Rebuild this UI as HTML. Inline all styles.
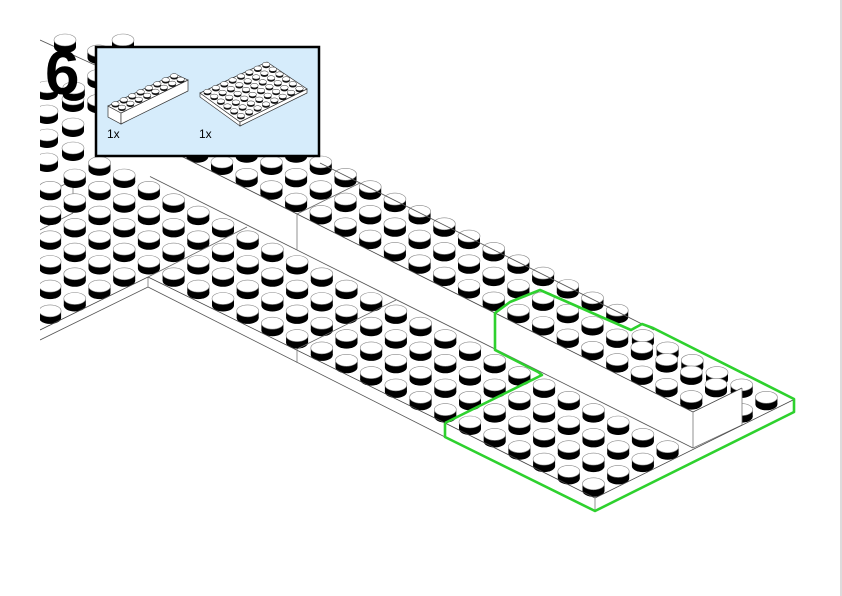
<!DOCTYPE html>
<html><head><meta charset="utf-8"><style>
html,body{margin:0;padding:0;background:#fff;}
#wrap{position:relative;width:842px;height:596px;overflow:hidden;background:#fff;}
svg{position:absolute;left:0;top:0;}
</style></head><body><div id="wrap">
<svg id="s" width="842" height="596" viewBox="0 0 842 596" xmlns="http://www.w3.org/2000/svg">
<defs><clipPath id="cp"><rect x="40" y="0" width="800" height="596"/></clipPath></defs>
<line x1="841" y1="0" x2="841" y2="596" stroke="#dcdcdc" stroke-width="2"/>
<g id="scene" clip-path="url(#cp)"></g>
<g id="top"></g>
</svg>
<script>
(function(){
var ax=24.7, ay=12.35;
function L0(i,j){return {x:470+ax*(i+j), y:422+ay*(i-j)};}
function L1(i,j){return {x:222+ax*(i+j), y:162+ay*(i-j)};}
function stud(p,fill){
  var x=p.x.toFixed(1), y=p.y.toFixed(1), yb=(p.y+7).toFixed(1);
  var f=fill||'#000';
  return '<ellipse cx="'+x+'" cy="'+yb+'" rx="11" ry="6" fill="'+f+'"/>'+
   '<rect x="'+(p.x-11).toFixed(1)+'" y="'+y+'" width="22" height="7" fill="'+f+'"/>'+
   '<ellipse cx="'+x+'" cy="'+y+'" rx="11" ry="6" fill="#fff" stroke="#888" stroke-width="0.6"/>';
}
function line(a,b,c,d,col,w){return '<line x1="'+a+'" y1="'+b+'" x2="'+c+'" y2="'+d+'" stroke="'+(col||'#444')+'" stroke-width="'+(w||0.8)+'"/>';}
function sortDraw(arr){arr.sort(function(a,b){return a.y-b.y;});var s='';arr.forEach(function(p){s+=stud(p);});return s;}
var out='';
var man=[{x:65,y:40},{x:123,y:40},{x:47,y:87},{x:47,y:111},{x:47,y:135},{x:47,y:159},{x:73,y:99},{x:73,y:124},{x:73,y:148}];
var ex=[];for(var i=0;i<=5;i++)ex.push(L0(i,7));ex.push(L0(5,6));
out+=line(40,40,95,65,'#555');
out+=sortDraw(man);
out+=sortDraw(ex);
var l1=[];
for(var i=-6;i<=19;i++){l1.push(L1(i,0));l1.push(L1(i,1));}
for(var i=-7;i<=14;i++){l1.push(L1(i,2));}
out+=sortDraw(l1);
function yt(x){return 412-(693-x)*0.5;}
function ybt(x){return 448-(693-x)*0.5;}
out+='<polygon points="150,'+yt(150)+' 693,412 693,448 150,'+ybt(150)+'" fill="#fff"/>';
out+='<polygon points="693,412 742,388 742,425 693,448" fill="#fff"/>';
out+=line(150,yt(150),693,412);
out+=line(150,ybt(150),693,448,'#555');
out+=line(693,412,693,448,'#777');
out+=line(297,yt(297),297,ybt(297),'#777');
out+=line(297,yt(297),360,183,'#666');
out+=line(693,412,742,388);
out+=line(742,388,742,425,'#777');
out+=line(693,448,742,425,'#777');
out+=line(320,163,654,330,'#555');
out+=line(73,180,73,213,'#777');
out+=line(40,197,73,180,'#666');
out+=line(40,230,73,213,'#666');
var l0=[];
for(var j=0;j<=3;j++)for(var i=-22;i<=5;i++){var p=L0(i,j);if(p.x<29)continue;if(p.x<90&&p.y<168)continue;if(p.y<ybt(p.x)+4)continue;l0.push(p);}
for(var j=-4;j<=-1;j++)for(var i=-22;i<=-13;i++){var p=L0(i,j);if(p.x<29)continue;l0.push(p);}
out+=sortDraw(l0);
out+=line(148,277,445,423);
out+=line(148,287,445,437,'#555');
out+=line(148,277,148,287,'#777');
out+=line(148,277,40,330);
out+=line(148,287,40,340,'#555');
out+=line(148,277,247,227,'#666');
out+=line(297,349,297,363,'#777');
out+=line(297,349,396,300,'#666');
out+=line(445,423,595,498);
out+=line(595,498,793,400);
out+=line(595,498,595,510,'#777');
out+=line(495,313,495,350,'#777');
out+='<polyline points="445,423 445,437 595,511 794,412 794,399 653,328 642,324 631,330 540,290 510,302 495,313 495,350 538,372 542,375 445,423" fill="none" stroke="#2ed12e" stroke-width="2.6" stroke-linejoin="round"/>';
document.getElementById('scene').innerHTML=out;

var b='';
b+='<rect x="96" y="47" width="223" height="109" fill="#d6ecfb" stroke="#000" stroke-width="2.5"/>';
var A={x:108,y:106},B={x:175,y:74},C={x:188,y:80},D={x:121,y:113};
b+='<polygon points="108,106 121,113 121,124 108,117" fill="#fff" stroke="#333" stroke-width="0.7"/>';
b+='<polygon points="121,113 188,80 188,91 121,124" fill="#fff" stroke="#333" stroke-width="0.7"/>';
b+='<polygon points="108,106 175,74 188,80 121,113" fill="#fff" stroke="#333" stroke-width="0.7"/>';
function smallStud(x,y){return '<ellipse cx="'+x.toFixed(1)+'" cy="'+(y+1.6).toFixed(1)+'" rx="3.8" ry="2.2" fill="#111"/><ellipse cx="'+x.toFixed(1)+'" cy="'+y.toFixed(1)+'" rx="3.8" ry="2.2" fill="#fff" stroke="#222" stroke-width="0.5"/>';}
var st=[];
for(var j=0;j<2;j++)for(var i=0;i<8;i++){var u=(i+0.5)/8,v=(j+0.5)/2;st.push({x:A.x+u*(B.x-A.x)+v*(D.x-A.x),y:A.y+u*(B.y-A.y)+v*(D.y-A.y)-2});}
st.sort(function(p,q){return p.y-q.y;});st.forEach(function(p){b+=smallStud(p.x,p.y);});
var P={x:200,y:93},T={x:267,y:62},R={x:307,y:89},Q={x:240,y:122};
b+='<polygon points="200,93 240,122 240,126 200,97" fill="#fff" stroke="#333" stroke-width="0.7"/>';
b+='<polygon points="240,122 307,89 307,93 240,126" fill="#fff" stroke="#333" stroke-width="0.7"/>';
b+='<polygon points="200,93 267,62 307,89 240,122" fill="#fff" stroke="#333" stroke-width="0.7"/>';
st=[];
for(var j=0;j<6;j++)for(var i=0;i<8;i++){var u=(i+0.5)/8,v=(j+0.5)/6;st.push({x:P.x+u*(T.x-P.x)+v*(Q.x-P.x),y:P.y+u*(T.y-P.y)+v*(Q.y-P.y)-2});}
st.sort(function(p,q){return p.y-q.y;});st.forEach(function(p){b+=smallStud(p.x,p.y);});
b+='<text x="107" y="138" font-family="Liberation Sans, sans-serif" font-size="12" fill="#000">1x</text>';
b+='<text x="199" y="138" font-family="Liberation Sans, sans-serif" font-size="12" fill="#000">1x</text>';
b+='<text x="45" y="94" font-family="Liberation Sans, sans-serif" font-size="62" font-weight="bold" fill="#000">6</text>';
document.getElementById('top').innerHTML=b;
})();
</script>
</div></body></html>
